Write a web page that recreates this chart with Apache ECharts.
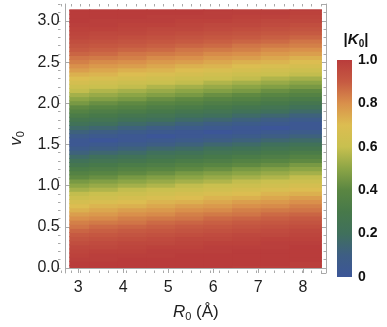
<!DOCTYPE html>
<html><head><meta charset="utf-8">
<script src="https://cdn.jsdelivr.net/npm/echarts@6/dist/echarts.min.js"></script>
<style>html,body{margin:0;padding:0;background:#fff}#c{width:387px;height:327px}</style>
</head><body><div id="c"></div>
<script>
// ---------------- data ----------------
// column centres along R0 (Å) and the plotted R0 domain
const r0Values = [2.93, 3.56, 4.20, 4.84, 5.47, 6.10, 6.74, 7.38, 8.02];
const r0Range = [2.8, 8.42];
// row centres along v0 and the plotted v0 domain
const v0Values = [0.00,0.05,0.10,0.15,0.20,0.25,0.30,0.35,0.40,0.45,0.50,0.55,0.60,0.65,0.70,0.75,0.80,0.85,0.90,0.95,
  1.00,1.05,1.10,1.15,1.20,1.25,1.30,1.35,1.40,1.45,1.50,1.55,1.60,1.65,1.70,1.75,1.80,1.85,1.90,1.95,
  2.00,2.05,2.10,2.15,2.20,2.25,2.30,2.35,2.40,2.45,2.50,2.55,2.60,2.65,2.70,2.75,2.80,2.85,2.90,2.95,
  3.00,3.05,3.10,3.14];
const v0Range = [0, 3.1416];
// |K0| for each R0 column, bottom (v0 = 0) to top (v0 = pi)
const k0Col1 = [1.00,1.00,0.99,0.98,0.97,0.96,0.94,0.92,0.90,0.88,0.85,0.83,0.80,0.77,0.73,0.70,0.66,0.62,0.59,0.54,0.50,0.46,0.41,0.37,0.32,0.27,0.22,0.17,0.12,0.07,0.03,
  0.03,0.07,0.12,0.17,0.22,0.27,0.32,0.37,0.41,0.46,0.50,0.54,0.59,0.62,0.66,0.70,0.73,0.77,0.80,0.83,0.85,0.88,0.90,0.92,0.94,0.96,0.97,0.98,0.99,1.00,1.00,1.00,1.00];
const k0Col2 = [1.00,1.00,0.99,0.99,0.98,0.96,0.95,0.93,0.91,0.89,0.87,0.84,0.81,0.78,0.75,0.72,0.68,0.64,0.61,0.56,0.52,0.48,0.43,0.39,0.34,0.30,0.25,0.20,0.15,0.10,0.05,0.00,
  0.05,0.10,0.15,0.20,0.25,0.30,0.34,0.39,0.43,0.48,0.52,0.56,0.61,0.64,0.68,0.72,0.75,0.78,0.81,0.84,0.87,0.89,0.91,0.93,0.95,0.96,0.98,0.99,0.99,1.00,1.00,1.00];
const k0Col3 = [1.00,1.00,1.00,0.99,0.98,0.97,0.96,0.94,0.92,0.90,0.88,0.85,0.83,0.80,0.77,0.73,0.70,0.66,0.62,0.59,0.54,0.50,0.46,0.41,0.37,0.32,0.27,0.22,0.17,0.12,0.07,0.03,
  0.03,0.07,0.12,0.17,0.22,0.27,0.32,0.37,0.41,0.46,0.50,0.54,0.59,0.62,0.66,0.70,0.73,0.77,0.80,0.83,0.85,0.88,0.90,0.92,0.94,0.96,0.97,0.98,0.99,1.00,1.00,1.00];
const k0Col4 = [1.00,1.00,1.00,0.99,0.99,0.98,0.96,0.95,0.93,0.91,0.89,0.87,0.84,0.81,0.78,0.75,0.72,0.68,0.64,0.61,0.56,0.52,0.48,0.43,0.39,0.34,0.30,0.25,0.20,0.15,0.10,0.05,0.00,
  0.05,0.10,0.15,0.20,0.25,0.30,0.34,0.39,0.43,0.48,0.52,0.56,0.61,0.64,0.68,0.72,0.75,0.78,0.81,0.84,0.87,0.89,0.91,0.93,0.95,0.96,0.98,0.99,0.99,1.00,1.00];
const k0Col5 = [1.00,1.00,1.00,1.00,0.99,0.98,0.97,0.96,0.94,0.92,0.90,0.88,0.85,0.83,0.80,0.77,0.73,0.70,0.66,0.62,0.59,0.54,0.50,0.46,0.41,0.37,0.32,0.27,0.22,0.17,0.12,0.07,0.03,
  0.03,0.07,0.12,0.17,0.22,0.27,0.32,0.37,0.41,0.46,0.50,0.54,0.59,0.62,0.66,0.70,0.73,0.77,0.80,0.83,0.85,0.88,0.90,0.92,0.94,0.96,0.97,0.98,0.99,1.00,1.00];
const k0Col6 = [1.00,1.00,1.00,1.00,0.99,0.99,0.98,0.96,0.95,0.93,0.91,0.89,0.87,0.84,0.81,0.78,0.75,0.72,0.68,0.64,0.61,0.56,0.52,0.48,0.43,0.39,0.34,0.30,0.25,0.20,0.15,0.10,0.05,0.00,
  0.05,0.10,0.15,0.20,0.25,0.30,0.34,0.39,0.43,0.48,0.52,0.56,0.61,0.64,0.68,0.72,0.75,0.78,0.81,0.84,0.87,0.89,0.91,0.93,0.95,0.96,0.98,0.99,0.99,1.00];
const k0Col7 = [0.99,1.00,1.00,1.00,1.00,0.99,0.98,0.97,0.96,0.94,0.92,0.90,0.88,0.85,0.83,0.80,0.77,0.73,0.70,0.66,0.62,0.59,0.54,0.50,0.46,0.41,0.37,0.32,0.27,0.22,0.17,0.12,0.07,0.03,
  0.03,0.07,0.12,0.17,0.22,0.27,0.32,0.37,0.41,0.46,0.50,0.54,0.59,0.62,0.66,0.70,0.73,0.77,0.80,0.83,0.85,0.88,0.90,0.92,0.94,0.96,0.97,0.98,0.99,0.99];
const k0Col8 = [0.99,1.00,1.00,1.00,1.00,0.99,0.99,0.98,0.96,0.95,0.93,0.91,0.89,0.87,0.84,0.81,0.78,0.75,0.72,0.68,0.64,0.61,0.56,0.52,0.48,0.43,0.39,0.34,0.30,0.25,0.20,0.15,0.10,0.05,0.00,
  0.05,0.10,0.15,0.20,0.25,0.30,0.34,0.39,0.43,0.48,0.52,0.56,0.61,0.64,0.68,0.72,0.75,0.78,0.81,0.84,0.87,0.89,0.91,0.93,0.95,0.96,0.98,0.99,0.99];
const k0Col9 = [0.99,0.99,1.00,1.00,1.00,1.00,0.99,0.98,0.97,0.96,0.94,0.92,0.90,0.88,0.85,0.83,0.80,0.77,0.73,0.70,0.66,0.62,0.59,0.54,0.50,0.46,0.41,0.37,0.32,0.27,0.22,0.17,0.12,0.07,0.03,
  0.03,0.07,0.12,0.17,0.22,0.27,0.32,0.37,0.41,0.46,0.50,0.54,0.59,0.62,0.66,0.70,0.73,0.77,0.80,0.83,0.85,0.88,0.90,0.92,0.94,0.96,0.97,0.98,0.99];
const k0Columns = [k0Col1, k0Col2, k0Col3, k0Col4, k0Col5, k0Col6, k0Col7, k0Col8, k0Col9];
// colour bar: its value range and its tick labels
const colorbarRange = [0, 1];
const colorbarTicks = [0, 0.2, 0.4, 0.6, 0.8, 1.0];
// colour scale (low -> high |K0|)
const palette = ['#3c5698', '#3e5e84', '#40705c', '#47794a', '#5a8642', '#8ca546',
                 '#c8c04f', '#dcbd51', '#d9904b', '#c65a42', '#b93c3b'];

// ---------------- layout ----------------
const FRAME = {left: 58, top: 4, width: 268, height: 269};
const X_EXT = [2.719, 8.51];
const Y_EXT = [-0.061, 3.206];
const FRAME_COLOR = '#a9a9a9';
const TXT = '#1e1e1e';
const FONT = '"Liberation Sans", Arial, sans-serif';

function edges(c, range) {
  const e = [range[0]];
  for (let i = 1; i < c.length; i++) e.push((c[i - 1] + c[i]) / 2);
  e.push(range[1]);
  return e;
}
const xEdges = edges(r0Values, r0Range);
const yEdges = edges(v0Values, v0Range);
const cells = [];
k0Columns.forEach((col, i) => col.forEach((k, j) => {
  cells.push([xEdges[i], xEdges[i + 1], yEdges[j], yEdges[j + 1], k]);
}));

const pxX = x => FRAME.left + (x - X_EXT[0]) / (X_EXT[1] - X_EXT[0]) * FRAME.width;
const pxY = y => FRAME.top + (Y_EXT[1] - y) / (Y_EXT[1] - Y_EXT[0]) * FRAME.height;

const minorX = [2.8, 8.4];
const minorY = [0, 3.2];

const nameRich = {
  i: {fontStyle: 'italic', fontSize: 17, fontFamily: FONT, color: TXT, lineHeight: 20, verticalAlign: 'middle'},
  n: {fontSize: 17, fontFamily: FONT, color: TXT, lineHeight: 20, verticalAlign: 'middle'},
  s: {fontSize: 11, fontFamily: FONT, color: TXT, lineHeight: 20, verticalAlign: 'bottom'}
};

const majorTick = {show: true, inside: true, length: 5, lineStyle: {color: FRAME_COLOR, width: 1}};
const minorTickStyle = {show: true, inside: true, length: 2.5, lineStyle: {color: FRAME_COLOR, width: 1}};
const frameLine = {show: true, lineStyle: {color: FRAME_COLOR, width: 1}};
const labelStyle = {fontSize: 16, color: TXT, fontFamily: FONT};

const chart = echarts.init(document.getElementById('c'), null, {renderer: 'canvas'});
chart.setOption({
  animation: false,
  backgroundColor: '#fff',
  grid: [
    {left: FRAME.left, top: FRAME.top, width: FRAME.width, height: FRAME.height, containLabel: false},
    {left: pxX(minorX[0]), top: FRAME.top, width: pxX(minorX[1]) - pxX(minorX[0]), height: FRAME.height},
    {left: FRAME.left, top: pxY(minorY[1]), width: FRAME.width, height: pxY(minorY[0]) - pxY(minorY[1])},
    {left: 337, top: 60, width: 15, height: 217}
  ],
  xAxis: [
    {gridIndex: 0, type: 'value', position: 'bottom', min: X_EXT[0], max: X_EXT[1], splitNumber: 5,
     axisLine: frameLine, axisTick: majorTick, splitLine: {show: false},
     axisLabel: Object.assign({margin: 7, showMinLabel: false, showMaxLabel: false, formatter: v => String(Math.round(v))}, labelStyle),
     name: '{i|R}{s|0}{n| (Å)}', nameLocation: 'middle', nameGap: 29,
     nameTextStyle: {rich: nameRich}},
    {gridIndex: 0, type: 'value', position: 'top', min: X_EXT[0], max: X_EXT[1], splitNumber: 5,
     axisLine: frameLine, axisTick: majorTick, axisLabel: {show: false}, splitLine: {show: false}},
    {gridIndex: 1, type: 'value', position: 'bottom', min: minorX[0], max: minorX[1], interval: 0.2,
     axisLine: {show: false}, axisTick: minorTickStyle, axisLabel: {show: false}, splitLine: {show: false}},
    {gridIndex: 1, type: 'value', position: 'top', min: minorX[0], max: minorX[1], interval: 0.2,
     axisLine: {show: false}, axisTick: minorTickStyle, axisLabel: {show: false}, splitLine: {show: false}},
    {gridIndex: 2, type: 'value', show: false, min: 0, max: 1},
    {gridIndex: 3, type: 'value', show: false, min: 0, max: 1}
  ],
  yAxis: [
    {gridIndex: 0, type: 'value', position: 'left', min: Y_EXT[0], max: Y_EXT[1], splitNumber: 6,
     axisLine: frameLine, axisTick: majorTick, splitLine: {show: false},
     axisLabel: Object.assign({margin: 6, showMinLabel: false, showMaxLabel: false, formatter: v => v.toFixed(1)}, labelStyle),
     name: '{i|v}{s|0}', nameLocation: 'middle', nameGap: 39, nameRotate: 90,
     nameTextStyle: {rich: nameRich}},
    {gridIndex: 0, type: 'value', position: 'right', min: Y_EXT[0], max: Y_EXT[1], splitNumber: 6,
     axisLine: frameLine, axisTick: majorTick, axisLabel: {show: false}, splitLine: {show: false}},
    {gridIndex: 1, type: 'value', show: false, min: 0, max: 1},
    {gridIndex: 2, type: 'value', position: 'left', min: minorY[0], max: minorY[1], interval: 0.1,
     axisLine: {show: false}, axisTick: minorTickStyle, axisLabel: {show: false}, splitLine: {show: false}},
    {gridIndex: 2, type: 'value', position: 'right', min: minorY[0], max: minorY[1], interval: 0.1,
     axisLine: {show: false}, axisTick: minorTickStyle, axisLabel: {show: false}, splitLine: {show: false}},
    {gridIndex: 3, type: 'value', position: 'right', min: colorbarRange[0], max: colorbarRange[1], interval: 0.2,
     axisLine: {show: false},
     axisTick: {show: true, inside: true, length: 3, lineStyle: {color: 'rgba(255,255,255,0.45)'}},
     splitLine: {show: false},
     axisLabel: {margin: 6, fontSize: 14, fontWeight: 'bold', color: '#111', fontFamily: FONT,
       formatter: v => (v === 0 ? '0' : v.toFixed(1))}}
  ],
  visualMap: [{
    type: 'continuous', min: colorbarRange[0], max: colorbarRange[1], dimension: 4, seriesIndex: 0,
    show: false, calculable: false,
    inRange: {color: palette}
  }],
  graphic: [{
    type: 'text', x: 356, y: 40,
    style: {
      text: '{b||}{k|K}{s|0}{b||}', textAlign: 'center', textVerticalAlign: 'middle',
      rich: {
        b: {fontSize: 15, fontWeight: 'bold', fontFamily: FONT, fill: '#111', lineHeight: 18, verticalAlign: 'middle'},
        k: {fontSize: 15, fontWeight: 'bold', fontStyle: 'italic', fontFamily: FONT, fill: '#111', lineHeight: 18, verticalAlign: 'middle'},
        s: {fontSize: 10, fontWeight: 'bold', fontFamily: FONT, fill: '#111', lineHeight: 18, verticalAlign: 'bottom'}
      }
    }
  }],
  series: [{
    type: 'custom', xAxisIndex: 0, yAxisIndex: 0,
    dimensions: ['x0', 'x1', 'y0', 'y1', 'k'],
    encode: {x: [0, 1], y: [2, 3]},
    data: cells,
    silent: true,
    renderItem: function (params, api) {
      const x0 = api.value(0), x1 = api.value(1), y0 = api.value(2), y1 = api.value(3);
      const a = api.coord([x0, y1]);
      const b = api.coord([x1, y0]);
      // overlap neighbours by 1px to avoid antialiasing seams (not at the outer edge)
      const padR = x1 < r0Range[1] ? 1 : 0;
      const padT = y1 < v0Range[1] ? 1 : 0;
      return {
        type: 'rect',
        shape: {x: a[0], y: a[1] - padT, width: b[0] - a[0] + padR, height: b[1] - a[1] + padT},
        style: {fill: api.visual('color')}
      };
    }
  }, {
    // colour bar drawn on its own value axis
    type: 'custom', xAxisIndex: 5, yAxisIndex: 5,
    data: [[0, colorbarRange[0], 1, colorbarRange[1]]],
    silent: true,
    renderItem: function (params, api) {
      const a = api.coord([api.value(0), api.value(3)]);
      const b = api.coord([api.value(2), api.value(1)]);
      const stops = palette.map((c, i) => ({offset: i / (palette.length - 1), color: c}));
      return {
        type: 'rect',
        shape: {x: a[0], y: a[1], width: b[0] - a[0], height: b[1] - a[1]},
        style: {fill: new echarts.graphic.LinearGradient(0, 1, 0, 0, stops)}
      };
    }
  }]
});
</script>
</body></html>
